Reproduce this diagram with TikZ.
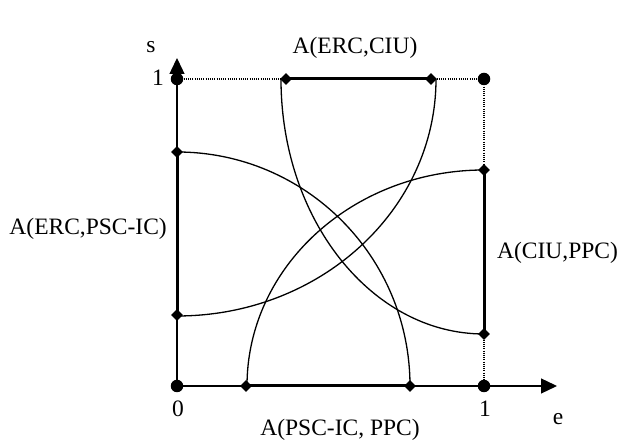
\documentclass[tikz,border=0pt]{standalone}
\usepackage{fontspec}
\setmainfont{Liberation Serif}
\usetikzlibrary{arrows.meta,shapes.geometric}
\begin{document}
\begin{tikzpicture}[x=1pt,y=1pt,
  thinline/.style={line width=1.3pt,black},
  boldline/.style={line width=3pt,black},
  dotline/.style={line width=1.1pt,dash pattern=on 1pt off 1.2pt},
  axisarrow/.style={thinline,-{Triangle[length=16pt,width=15pt]}},
  bigdot/.style={circle,fill=black,inner sep=0pt,minimum size=12.5pt},
  dia/.style={diamond,fill=black,inner sep=0pt,minimum width=12pt,minimum height=12pt},
  lab/.style={font=\fontsize{23.5}{27}\selectfont,inner sep=0pt}]
\useasboundingbox (0,0) rectangle (619,443);
% key points
\coordinate (O) at (177,57);
\coordinate (X1) at (484,57);
\coordinate (Y1) at (177,364);
\coordinate (P11) at (484,364);
\coordinate (XE) at (557,57);
\coordinate (YE) at (177,385);
\coordinate (L1) at (177,291);
\coordinate (L2) at (177,128);
\coordinate (T1) at (286,364);
\coordinate (T2) at (431,364);
\coordinate (R1) at (484,273);
\coordinate (R2) at (484,109);
\coordinate (B1) at (246,57);
\coordinate (B2) at (410,57);
\coordinate (Bs) at (281,364);
\coordinate (Cs) at (436,364);
\coordinate (Ds) at (247,57);
% dotted box
\draw[dotline] (Y1) -- (P11) -- (X1);
% axes
\draw[axisarrow] (O) -- (XE);
\draw[axisarrow] (O) -- (YE);
% arcs
\draw[thinline] (L1) arc[start angle=90,end angle=0,x radius=233pt,y radius=234pt];
\draw[thinline] (Bs) arc[start angle=180,end angle=270,x radius=203pt,y radius=255pt];
\draw[thinline] (Cs) arc[start angle=0,end angle=-90,x radius=259pt,y radius=237pt];
\draw[thinline] (Ds) arc[start angle=180,end angle=90,x radius=237pt,y radius=216pt];
% bold segments
\draw[boldline] (T1) -- (T2);
\draw[boldline] (L1) -- (L2);
\draw[boldline] (R1) -- (R2);
\draw[boldline] (B1) -- (B2);
% markers
\foreach \p in {T1,T2,L1,L2,R1,R2,B1,B2} \node[dia] (d\p) at (\p) {};
\foreach \p in {O,X1,Y1,P11} \node[bigdot] (c\p) at (\p) {};
% labels
\node[lab] (lt) at (355,395) {A(ERC,CIU)};
\node[lab,anchor=east] (ll) at (167,214) {A(ERC,PSC-IC)};
\node[lab,anchor=west] (lr) at (497,190) {A(CIU,PPC)};
\node[lab] (lb) at (340,13) {A(PSC-IC, PPC)};
\node[lab] (n0) at (178,34) {0};
\node[lab] (n1x) at (485,34) {1};
\node[lab] (ne) at (558,24) {e};
\node[lab] (n1y) at (158,365) {1};
\node[lab] (ns) at (151,396) {s};
\end{tikzpicture}
\end{document}
